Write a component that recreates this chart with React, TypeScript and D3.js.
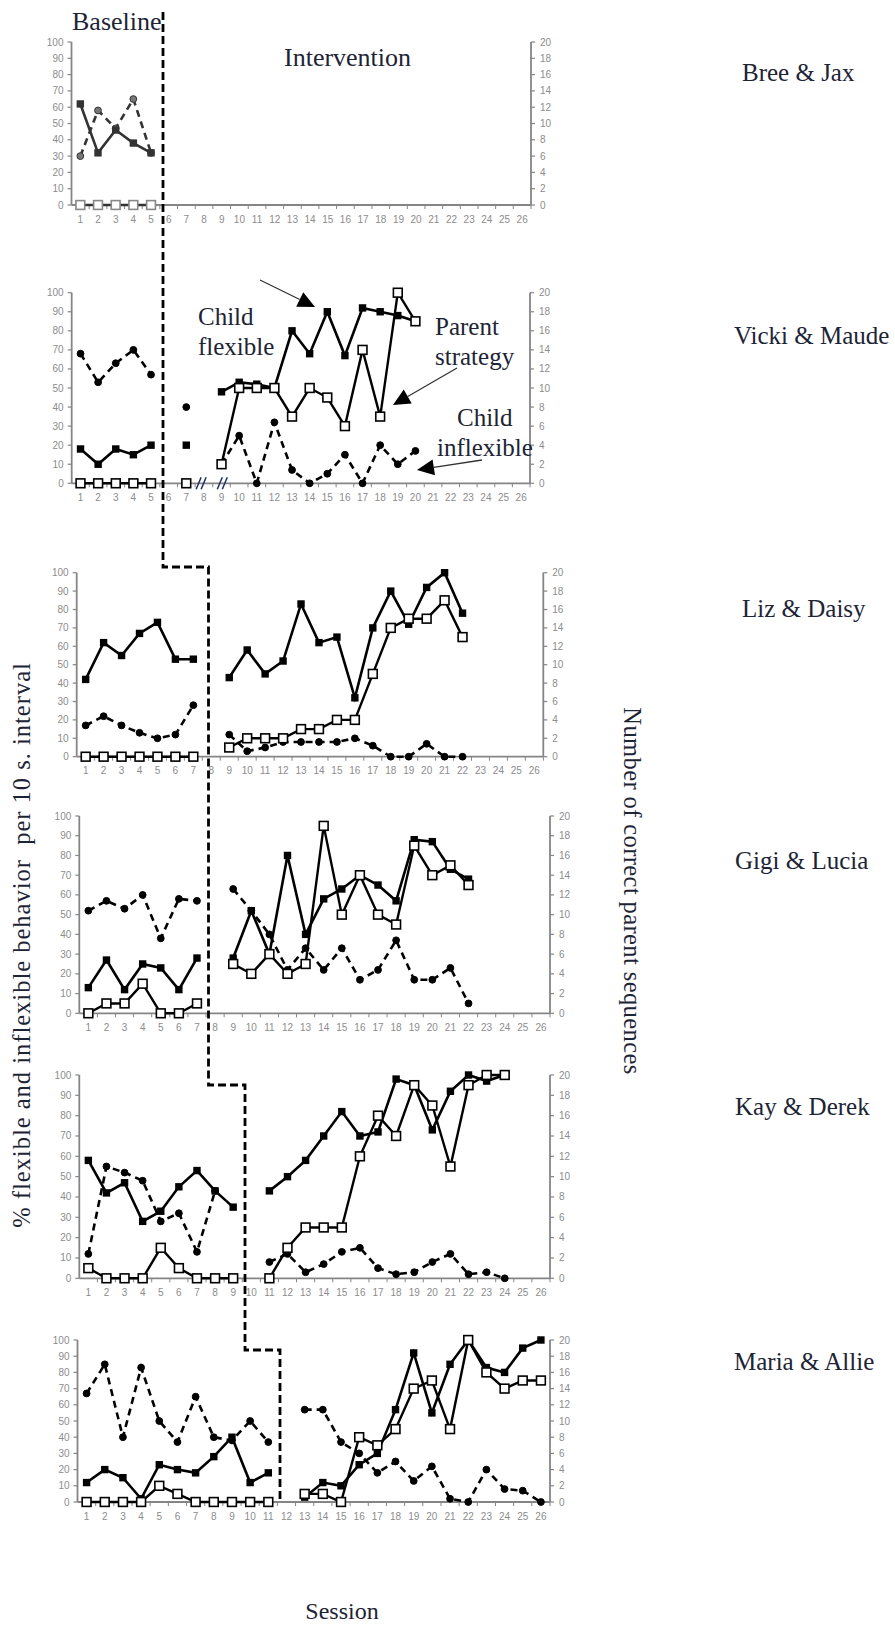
import React from "react";
import * as d3 from "d3";

// categories / ticks
const sessions = [1, 2, 3, 4, 5, 6, 7, 8, 9, 10, 11, 12, 13, 14, 15, 16, 17, 18, 19, 20, 21, 22, 23, 24, 25, 26];
const leftTicks = [0, 10, 20, 30, 40, 50, 60, 70, 80, 90, 100];
const rightTicks = [0, 2, 4, 6, 8, 10, 12, 14, 16, 18, 20];

// % flexible (solid, filled squares), % inflexible (dashed, dots), parent sequences (open squares, right axis)
const breeFlexible = [62, 32, 46, 38, 32];
const breeInflexible = [30, 58, 47, 65, 32];
const breeParent = [0, 0, 0, 0, 0];

const vickiFlexible = [18, 10, 18, 15, 20, null, 20, null, 48, 53, 52, 50, 80, 68, 90, 67, 92, 90, 88, 85];
const vickiInflexible = [68, 53, 63, 70, 57, null, 40, null, 10, 25, 0, 32, 7, 0, 5, 15, 0, 20, 10, 17];
const vickiParent = [0, 0, 0, 0, 0, null, 0, null, 2, 10, 10, 10, 7, 10, 9, 6, 14, 7, 20, 17];

const lizFlexible = [42, 62, 55, 67, 73, 53, 53, null, 43, 58, 45, 52, 83, 62, 65, 32, 70, 90, 72, 92, 100, 78];
const lizInflexible = [17, 22, 17, 13, 10, 12, 28, null, 12, 3, 5, 8, 8, 8, 8, 10, 6, 0, 0, 7, 0, 0];
const lizParent = [0, 0, 0, 0, 0, 0, 0, null, 1, 2, 2, 2, 3, 3, 4, 4, 9, 14, 15, 15, 17, 13];

const gigiFlexible = [13, 27, 12, 25, 23, 12, 28, null, 28, 52, 30, 80, 40, 58, 63, 70, 65, 57, 88, 87, 73, 68];
const gigiInflexible = [52, 57, 53, 60, 38, 58, 57, null, 63, 52, 40, 22, 33, 22, 33, 17, 22, 37, 17, 17, 23, 5];
const gigiParent = [0, 1, 1, 3, 0, 0, 1, null, 5, 4, 6, 4, 5, 19, 10, 14, 10, 9, 17, 14, 15, 13];

const kayFlexible = [58, 42, 47, 28, 33, 45, 53, 43, 35, null, 43, 50, 58, 70, 82, 70, 72, 98, 95, 73, 92, 100, 97, 100];
const kayInflexible = [12, 55, 52, 48, 28, 32, 13, 43, null, null, 8, 12, 3, 7, 13, 15, 5, 2, 3, 8, 12, 2, 3, 0];
const kayParent = [1, 0, 0, 0, 3, 1, 0, 0, 0, null, 0, 3, 5, 5, 5, 12, 16, 14, 19, 17, 11, 19, 20, 20];

const mariaFlexible = [12, 20, 15, 2, 23, 20, 18, 28, 40, 12, 18, null, 3, 12, 10, 23, 30, 57, 92, 55, 85, 100, 83, 80, 95, 100];
const mariaInflexible = [67, 85, 40, 83, 50, 37, 65, 40, 38, 50, 37, null, 57, 57, 37, 30, 18, 25, 13, 22, 2, 0, 20, 8, 7, 0];
const mariaParent = [0, 0, 0, 0, 2, 1, 0, 0, 0, 0, 0, null, 1, 1, 0, 8, 7, 9, 14, 15, 9, 20, 16, 14, 15, 15];

const panels = [
  { name: "Bree & Jax", flexible: breeFlexible, inflexible: breeInflexible, parent: breeParent, left: 71.5, right: 531, top: 42, bottom: 205, labelX: 742, labelY: 72, faded: true },
  { name: "Vicki & Maude", flexible: vickiFlexible, inflexible: vickiInflexible, parent: vickiParent, left: 71.7, right: 530, top: 292.7, bottom: 483.3, labelX: 734, labelY: 335 },
  { name: "Liz & Daisy", flexible: lizFlexible, inflexible: lizInflexible, parent: lizParent, left: 76.7, right: 543.3, top: 572.7, bottom: 756.7, labelX: 742, labelY: 608 },
  { name: "Gigi & Lucia", flexible: gigiFlexible, inflexible: gigiInflexible, parent: gigiParent, left: 79.3, right: 550, top: 816, bottom: 1013.3, labelX: 735, labelY: 860 },
  { name: "Kay & Derek", flexible: kayFlexible, inflexible: kayInflexible, parent: kayParent, left: 79.3, right: 550, top: 1075, bottom: 1278.3, labelX: 735, labelY: 1106 },
  { name: "Maria & Allie", flexible: mariaFlexible, inflexible: mariaInflexible, parent: mariaParent, left: 77.5, right: 550, top: 1340, bottom: 1502, labelX: 734, labelY: 1361 },
];

const SERIF = "'Liberation Serif', 'Times New Roman', serif";
const SANS = "'Liberation Sans', Arial, sans-serif";
const INK = "#1d2435";
const AXIS = "#858585";
const TICK_TEXT = "#8c8c8c";
const BIG = 25;

type Pt = [number, number | null];

function Panel({ p }) {
  const x = d3.scaleLinear().domain([0.5, 26.5]).range([p.left, p.right]);
  const yL = d3.scaleLinear().domain([0, 100]).range([p.bottom, p.top]);
  const yR = d3.scaleLinear().domain([0, 20]).range([p.bottom, p.top]);

  const toPts = (vals: (number | null)[]): Pt[] => vals.map((v, i) => [sessions[i], v]);
  const lineL = d3
    .line<Pt>()
    .defined((d) => d[1] != null)
    .x((d) => x(d[0]))
    .y((d) => yL(d[1] as number));
  const lineR = d3
    .line<Pt>()
    .defined((d) => d[1] != null)
    .x((d) => x(d[0]))
    .y((d) => yR(d[1] as number));

  const flex = toPts(p.flexible);
  const inflex = toPts(p.inflexible);
  const parent = toPts(p.parent);
  const markColor = p.faded ? "#333" : "#000";

  return (
    <g>
      {/* axes */}
      <line x1={p.left} x2={p.left} y1={p.top} y2={p.bottom} stroke={AXIS} strokeWidth={1.8} />
      <line x1={p.right} x2={p.right} y1={p.top} y2={p.bottom} stroke={AXIS} strokeWidth={1.8} />
      <line x1={p.left} x2={p.right} y1={p.bottom} y2={p.bottom} stroke={AXIS} strokeWidth={1.8} />
      {leftTicks.map((t) => (
        <g key={"l" + t}>
          <line x1={p.left - 4} x2={p.left} y1={yL(t)} y2={yL(t)} stroke={AXIS} strokeWidth={1.2} />
          <text x={p.left - 8} y={yL(t)} dy="0.35em" textAnchor="end" fontSize={10} fontFamily={SANS} fill={TICK_TEXT}>
            {t}
          </text>
        </g>
      ))}
      {rightTicks.map((t) => (
        <g key={"r" + t}>
          <line x1={p.right} x2={p.right + 4} y1={yR(t)} y2={yR(t)} stroke={AXIS} strokeWidth={1.2} />
          <text x={p.right + 9} y={yR(t)} dy="0.35em" textAnchor="start" fontSize={10} fontFamily={SANS} fill={TICK_TEXT}>
            {t}
          </text>
        </g>
      ))}
      {sessions.map((s) => (
        <g key={"s" + s}>
          <line x1={x(s + 0.5)} x2={x(s + 0.5)} y1={p.bottom} y2={p.bottom + 4} stroke={AXIS} strokeWidth={1} />
          <text x={x(s)} y={p.bottom + 14} dy="0.35em" textAnchor="middle" fontSize={10} fontFamily={SANS} fill={TICK_TEXT}>
            {s}
          </text>
        </g>
      ))}

      {/* lines */}
      <path d={lineL(inflex) || ""} fill="none" stroke={markColor} strokeWidth={2.6} strokeDasharray="7,5" />
      <path d={lineR(parent) || ""} fill="none" stroke={markColor} strokeWidth={2.4} />
      <path d={lineL(flex) || ""} fill="none" stroke={markColor} strokeWidth={2.6} />

      {/* markers */}
      {inflex
        .filter((d) => d[1] != null)
        .map((d, i) => (
          <circle key={"c" + i} cx={x(d[0])} cy={yL(d[1] as number)} r={3.4} fill={p.faded ? "#777" : "#000"} stroke={markColor} strokeWidth={1} />
        ))}
      {flex
        .filter((d) => d[1] != null)
        .map((d, i) => (
          <rect key={"f" + i} x={x(d[0]) - 3.7} y={yL(d[1] as number) - 3.7} width={7.4} height={7.4} fill={markColor} />
        ))}
      {parent
        .filter((d) => d[1] != null)
        .map((d, i) => (
          <rect
            key={"p" + i}
            x={x(d[0]) - 4.4}
            y={yR(d[1] as number) - 4.4}
            width={8.8}
            height={8.8}
            fill="#fff"
            stroke={p.faded ? "#888" : "#000"}
            strokeWidth={1.6}
          />
        ))}

      <text x={p.labelX} y={p.labelY} dy="0.35em" textAnchor="start" fontSize={BIG} fontFamily={SERIF} fill={INK}>
        {p.name}
      </text>
    </g>
  );
}

function Arrow({ x1, y1, x2, y2 }) {
  const ang = Math.atan2(y2 - y1, x2 - x1);
  const len = 17;
  const half = 8;
  const bx = x2 - len * Math.cos(ang);
  const by = y2 - len * Math.sin(ang);
  const px = -Math.sin(ang) * half;
  const py = Math.cos(ang) * half;
  return (
    <g>
      <line x1={x1} y1={y1} x2={bx} y2={by} stroke="#333" strokeWidth={1.3} />
      <path d={`M${x2},${y2}L${bx + px},${by + py}L${bx - px},${by - py}Z`} fill="#000" />
    </g>
  );
}

export default function App() {
  const vicki = panels[1];
  const vx = d3.scaleLinear().domain([0.5, 26.5]).range([vicki.left, vicki.right]);
  const last = panels[panels.length - 1];

  return (
    <svg
      width={895}
      height={1651}
      style={{ position: "absolute", left: 0, top: 0, background: "#fff" }}
    >
      <rect width={895} height={1651} fill="#fff" />
      {panels.map((p) => (
        <Panel key={p.name} p={p} />
      ))}

      {/* axis breaks on Vicki & Maude */}
      {[7.9, 9.1].map((s) => (
        <g key={"br" + s} stroke="#1f2f66" strokeWidth={1.5}>
          <line x1={vx(s) - 6} y1={vicki.bottom + 6} x2={vx(s) - 1} y2={vicki.bottom - 6} />
          <line x1={vx(s) - 1} y1={vicki.bottom + 6} x2={vx(s) + 4} y2={vicki.bottom - 6} />
        </g>
      ))}

      {/* phase change line */}
      <path
        d={`M163,12V567H208.5V1085H245V1350H280V${last.bottom}`}
        fill="none"
        stroke="#000"
        strokeWidth={2.8}
        strokeDasharray="8,4"
      />

      <text x={72} y={30} fontSize={26} fontFamily={SERIF} fill={INK}>Baseline</text>
      <text x={284} y={66} fontSize={26} fontFamily={SERIF} fill={INK}>Intervention</text>

      {/* annotations */}
      <text x={198} y={325} fontSize={BIG} fontFamily={SERIF} fill={INK}>Child</text>
      <text x={198} y={355} fontSize={BIG} fontFamily={SERIF} fill={INK}>flexible</text>
      <text x={435} y={335} fontSize={BIG} fontFamily={SERIF} fill={INK}>Parent</text>
      <text x={435} y={365} fontSize={BIG} fontFamily={SERIF} fill={INK}>strategy</text>
      <text x={457} y={426} fontSize={BIG} fontFamily={SERIF} fill={INK}>Child</text>
      <text x={437} y={456} fontSize={BIG} fontFamily={SERIF} fill={INK}>inflexible</text>
      <Arrow x1={260} y1={280} x2={315} y2={307} />
      <Arrow x1={457} y1={368} x2={393} y2={405} />
      <Arrow x1={482} y1={460} x2={417} y2={470} />

      {/* axis titles */}
      <text
        transform="translate(21,945) rotate(-90)"
        textAnchor="middle"
        dy="0.35em"
        fontSize={24.5}
        letterSpacing={1}
        fontFamily={SERIF}
        fill={INK}
        style={{ whiteSpace: "pre" }}
      >
        % flexible and inflexible behavior  per 10 s. interval
      </text>
      <text
        transform="translate(633,891) rotate(90)"
        textAnchor="middle"
        dy="0.35em"
        fontSize={24.5}
        letterSpacing={0.4}
        fontFamily={SERIF}
        fill={INK}
      >
        Number of correct parent sequences
      </text>
      <text x={342} y={1611} dy="0.35em" textAnchor="middle" fontSize={24} fontFamily={SERIF} fill={INK}>
        Session
      </text>
    </svg>
  );
}
